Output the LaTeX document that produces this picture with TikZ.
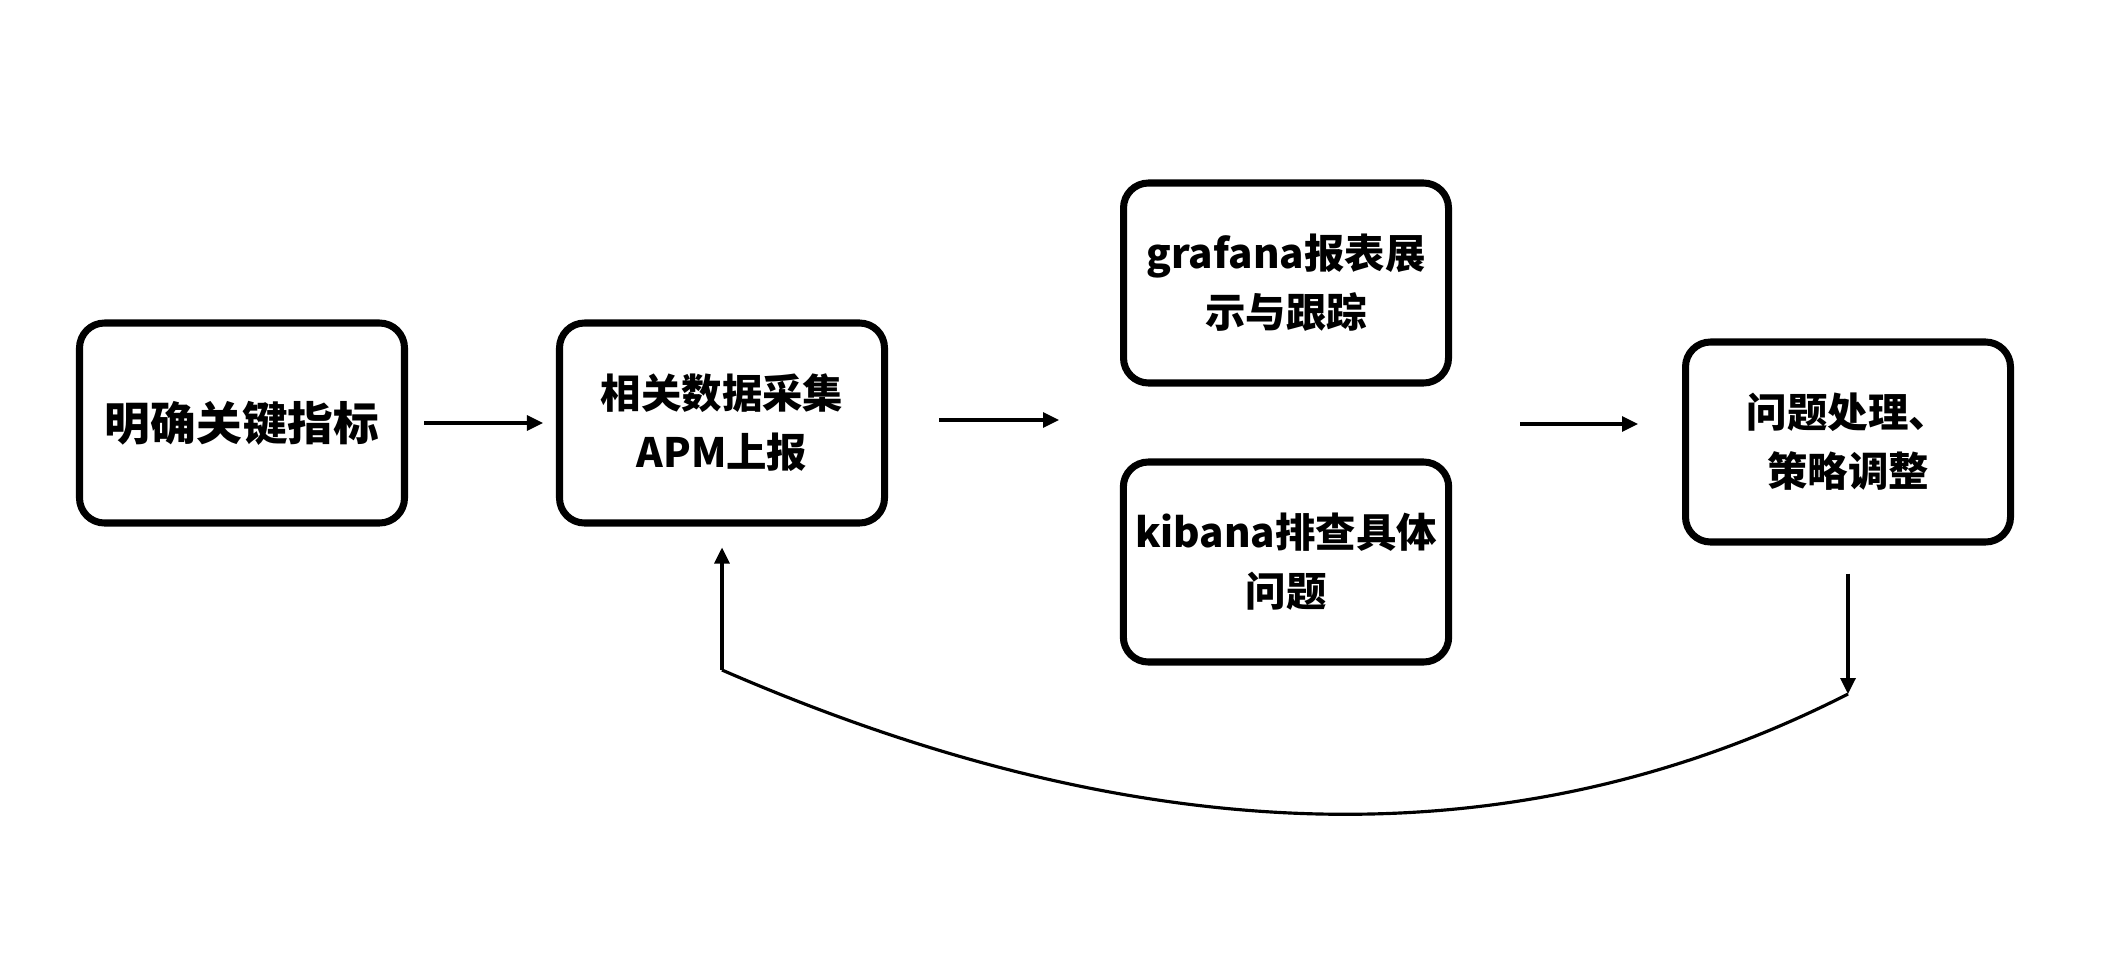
\documentclass[tikz,border=0pt]{standalone}
\usepackage{fontspec}
\setmainfont{Noto Sans CJK SC}
\usepackage{tikz}
\usetikzlibrary{arrows.meta}

\begin{document}
\begin{tikzpicture}[
    box/.style={draw, line width=2pt, rounded corners=2.5mm, minimum width=3.25cm, minimum height=2.0cm, align=center, font=\bfseries\fontsize{11.5}{16.8}\selectfont},
    flow/.style={line width=0.9pt},
    arr/.style={flow, -{Triangle[length=1.6mm, width=1.5mm]}}
]
    \useasboundingbox (0, 0) rectangle (21.02, 9.6);
    \node[box, font=\bfseries\fontsize{13}{16}\selectfont] (b1) at (2.42, 5.37) {明确关键指标};
    \node[box] (b2) at (7.22, 5.37) {相关数据采集\\APM上报};
    \node[box] (b3) at (12.86, 6.77) {grafana报表展\\示与跟踪};
    \node[box] (b4) at (12.86, 3.98) {kibana排查具体\\问题};
    \node[box] (b5) at (18.48, 5.18) {问题处理、\\ 策略调整};
    \coordinate (mid) at (11.19, 5.40);
    \coordinate (mid2) at (14.52, 5.36);
    \coordinate (fa) at (7.22, 2.90);
    \coordinate (fb) at (18.48, 2.66);
    \draw[arr, shorten <=1.6mm, shorten >=1.3mm] (b1.east) -- (b2.west |- b1.east);
    \draw[arr, shorten <=5.1mm, shorten >=6mm] (b2.east |- mid) -- (mid);
    \draw[arr, shorten <=6.8mm, shorten >=4.4mm] (mid2) -- (b5.west |- mid2);
    \draw[arr, shorten <=2.8mm] (b5.south) -- (fb);
    \draw[flow] (fb) .. controls (15.18, 0.98) and (11.45, 1.06) .. (fa);
    \draw[arr, shorten >=2.1mm] (fa) -- (b2.south);
\end{tikzpicture}
\end{document}
